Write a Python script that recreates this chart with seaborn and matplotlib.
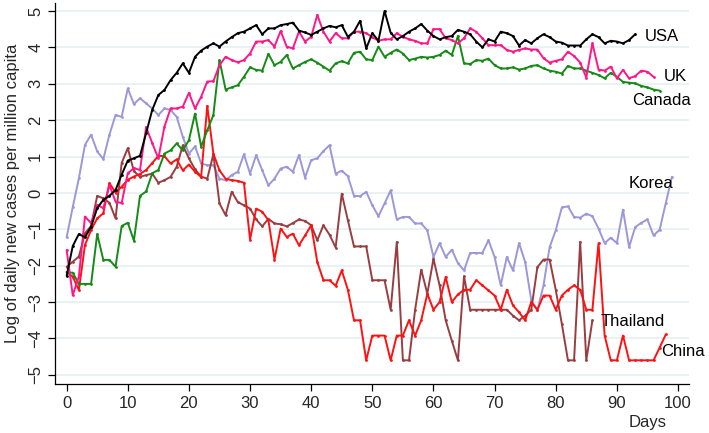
import numpy as np
import pandas as pd
import matplotlib
matplotlib.use("Agg")
import matplotlib.pyplot as plt
import seaborn as sns

# log of daily new cases per million (day 0 = first day)
usa = [-2.28, -1.46, -1.13, -1.22, -0.93, -0.42, -0.19, -0.08, 0.08, 0.5,
       0.89, 0.95, 1.02, 1.64, 2.28, 2.69, 2.83, 3.1, 3.3, 3.56,
       3.3, 3.74, 3.91, 4.02, 4.11, 4.02, 4.16, 4.28, 4.39, 4.43,
       4.52, 4.61, 4.36, 4.52, 4.52, 4.61, 4.64, 4.68, 4.46, 4.41,
       4.34, 4.43, 4.52, 4.59, 4.55, 4.61, 4.29, 4.43, 4.73, 3.97,
       4.39, 4.18, 5.0, 4.4, 4.22, 4.31, 4.43, 4.52, 4.64, 4.46,
       4.31, 4.22, 4.28, 4.31, 4.48, 4.43, 4.36, 4.16, 4.0, 4.22,
       4.16, 4.43, 4.39, 4.31, 4.05, 4.2, 4.11, 4.25, 4.36, 4.28,
       4.16, 4.13, 4.05, 4.05, 4.05, 4.22, 4.36, 4.28, 4.11, 4.18,
       4.16, 4.11, 4.2, 4.36]
uk = [-1.57, -2.81, -2.3, -0.65, -0.83, -0.33, -0.42, 0.22, -0.24, -0.28,
      0.54, 0.68, 0.63, 1.81, 1.37, 0.95, 1.82, 2.32, 2.32, 2.37,
      2.75, 2.32, 2.64, 3.06, 3.07, 3.51, 3.74, 3.65, 3.59, 3.65,
      3.83, 4.16, 4.16, 4.2, 4.02, 4.45, 4.02, 3.97, 4.43, 4.16,
      4.29, 4.89, 4.43, 4.16, 4.39, 4.25, 4.25, 4.43, 4.43, 4.39,
      4.28, 4.18, 4.22, 4.22, 4.39, 4.29, 4.22, 4.18, 4.11, 4.11,
      4.5, 4.5, 4.25, 4.2, 4.11, 4.25, 4.52, 4.43, 4.25, 4.06,
      4.06, 4.06, 3.93, 3.88, 3.93, 3.97, 3.94, 3.94, 3.7, 3.58,
      3.63, 3.67, 3.88, 3.76, 3.58, 3.17, 4.11, 3.39, 3.36, 3.47,
      3.15, 3.38, 3.15, 3.21, 3.36, 3.33, 3.19]
canada = [-2.19, -2.19, -2.5, -2.5, -2.5, -1.13, -1.84, -1.84, -2.03, -0.91,
          -0.82, -1.31, -0.08, 0.04, 0.54, 0.63, 1.08, 1.17, 1.36, 1.17,
          1.45, 2.18, 1.27, 1.72, 2.14, 3.65, 2.84, 2.9, 2.96, 3.19,
          3.45, 3.38, 3.36, 3.82, 3.51, 3.6, 3.79, 3.42, 3.51, 3.6,
          3.67, 3.58, 3.47, 3.36, 3.56, 3.62, 3.56, 3.85, 3.88, 3.67,
          3.65, 4.02, 3.74, 3.85, 3.94, 3.83, 3.65, 3.69, 3.74, 3.72,
          3.74, 3.79, 3.91, 3.79, 4.31, 3.56, 3.54, 3.65, 3.63, 3.69,
          3.51, 3.42, 3.42, 3.45, 3.39, 3.42, 3.49, 3.51, 3.42, 3.36,
          3.33, 3.28, 3.49, 3.42, 3.42, 3.36, 3.3, 3.24, 3.15, 3.3,
          3.19, 3.05, 3.03, 3.01, 2.94, 2.9, 2.84, 2.81]
korea = [-1.22, -0.39, 0.4, 1.32, 1.6, 1.14, 0.93, 1.6, 2.14, 2.09,
         2.87, 2.44, 2.6, 2.46, 2.32, 2.14, 2.32, 2.28, 2.09, 1.54,
         1.08, 1.28, 0.81, 0.76, 0.76, 0.39, 0.35, 0.49, 0.58, 1.06,
         0.53, 1.04, 0.62, 0.21, 0.39, 0.67, 0.72, 0.58, 1.04, 0.42,
         0.9, 0.95, 1.15, 1.31, 0.53, 0.61, 0.46, -0.08, -0.09, 0.03,
         -0.34, -0.64, -0.29, 0.07, -0.73, -0.66, -0.66, -0.84, -0.84, -1.03,
         -1.76, -1.38, -1.76, -1.56, -1.93, -2.13, -1.65, -1.65, -1.65, -1.3,
         -1.76, -2.54, -1.76, -2.13, -1.38, -1.9, -2.95, -3.23, -2.54, -1.49,
         -1.03, -0.4, -0.37, -0.66, -0.68, -0.57, -0.64, -0.98, -1.38, -1.23,
         -1.38, -0.46, -1.49, -0.94, -0.82, -0.73, -1.17, -1.01, -0.28, 0.44]
thailand = [-2.03, -1.89, -1.75, -1.11, -0.91, -0.08, -0.15, -0.27, -0.7, 0.82,
            1.23, 0.6, 0.44, 0.49, 0.53, 0.28, 0.35, 0.44, 0.72, 1.31,
            0.95, 0.65, 0.45, 0.39, 1.06, -0.29, -0.61, 0.03, -0.25, -0.34,
            -0.43, -0.73, -0.92, -0.71, -0.84, -0.86, -0.92, -0.83, -0.73, -0.77,
            -0.89, -1.3, -0.89, -1.15, -1.5, -0.02, -0.75, -1.47, -1.47, -1.47,
            -2.4, -2.4, -2.4, -3.21, -1.35, -4.6, -4.6, -3.21, -2.11, -2.77,
            -1.81, -2.54, -3.5, -4.06, -4.6, -2.29, -3.21, -3.21, -3.21, -3.21,
            -3.21, -3.21, -3.21, -3.37, -3.5, -3.37, -3.21, -2.04, -1.83, -1.83,
            -2.66, -3.6, -4.6, -4.6, -1.35, -4.6, -3.5]
china = [-2.17, -2.3, -2.67, -1.43, -1.02, -0.7, -0.56, 0.27, 0.01, 0.17,
         0.36, 0.45, 0.52, 0.63, 0.82, 1.02, 1.01, 0.81, 0.92, 0.62,
         0.78, 0.58, 0.44, 2.39, 1.08, 0.62, 0.39, 0.35, 0.33, 0.28,
         -1.28, -0.43, -0.52, -0.75, -1.83, -0.98, -1.21, -1.12, -1.44, -1.17,
         -0.89, -1.9, -2.4, -2.4, -2.55, -2.13, -2.66, -3.5, -3.5, -4.6,
         -3.92, -3.92, -3.92, -4.6, -3.92, -3.92, -3.5, -3.92, -3.5, -2.77,
         -3.21, -3.0, -2.31, -3.0, -2.79, -2.66, -2.66, -2.4, -2.54, -2.68,
         -2.82, -3.21, -2.66, -3.09, -3.28, -3.5, -3.0, -3.21, -2.82, -2.82,
         -3.21, -2.82, -2.66, -2.54, -2.66, -3.21, -3.21, -1.38, -3.92, -4.6,
         -4.6, -3.92, -4.6, -4.6, -4.6, -4.6, -4.6, -4.25, -3.89]

countries = ["Korea", "Thailand", "China", "Canada", "UK", "USA"]
series = [korea, thailand, china, canada, uk, usa]
colors = {"Korea": "#9b97d9", "Thailand": "#9a3d41", "China": "#ff1111",
          "Canada": "#168a16", "UK": "#ff1689", "USA": "#000000"}

df = pd.concat([pd.DataFrame({"day": np.arange(len(v)), "value": v, "country": c})
                for c, v in zip(countries, series)], ignore_index=True)

sns.set_theme(style="white")
plt.rcParams["font.family"] = ["Liberation Sans", "DejaVu Sans"]

fig = plt.figure(figsize=(7.09, 4.33), dpi=100)
ax = fig.add_axes([0.0776, 0.1132, 0.8942, 0.88])

sns.lineplot(data=df, x="day", y="value", hue="country", hue_order=countries,
             palette=colors, marker="o", markersize=2, markeredgewidth=0,
             linewidth=1.4, errorbar=None, legend=False, ax=ax)

ax.set_xlim(-1.9, 101.8)
ax.set_ylim(-5.25, 5.22)
ax.set_xticks(range(0, 101, 10))
ax.set_yticks(range(-5, 6))
ax.yaxis.grid(True, color="#e6eff1", linewidth=1.2)
ax.set_axisbelow(True)
for s in ["top", "right"]:
    ax.spines[s].set_visible(False)
for s in ["left", "bottom"]:
    ax.spines[s].set_color("black")
    ax.spines[s].set_linewidth(0.9)
ax.tick_params(axis="both", which="major", length=5, width=0.9, color="black",
               labelsize=12, direction="out", left=True, bottom=True)
for lab in ax.get_yticklabels():
    lab.set_rotation(90)
    lab.set_va("center")
ax.set_xlabel("")
ax.set_ylabel("Log of daily new cases per million capita", fontsize=12, labelpad=6)

labels = {"USA": (94.6, 4.31), "UK": (97.6, 3.21), "Canada": (92.5, 2.53),
          "Korea": (92.0, 0.27), "Thailand": (87.4, -3.52), "China": (97.3, -4.37)}
for name, (x, y) in labels.items():
    ax.text(x, y, name, fontsize=12, ha="left", va="center", color="black")

fig.text(648 / 709, 1 - 422 / 433, "Days", fontsize=12, ha="center", va="center")

fig.savefig("out.png", dpi=100)
